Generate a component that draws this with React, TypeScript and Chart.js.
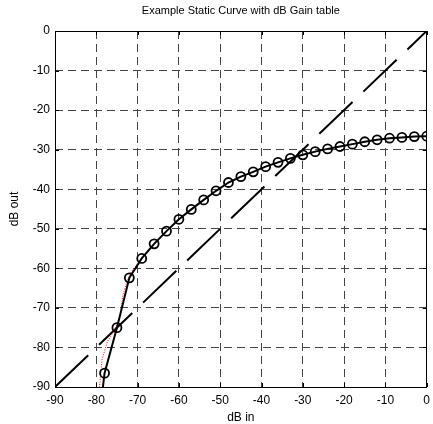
import React, { useEffect, useRef } from "react";
import { Chart, registerables } from "chart.js";

Chart.register(...registerables);

const chartTitle = "Example Static Curve with dB Gain table";
const xLabel = "dB in";
const yLabel = "dB out";
const tickValues = [-90, -80, -70, -60, -50, -40, -30, -20, -10, 0];

// Static curve with circle markers (first point lies below the axis, no marker)
const curveIn = [-81, -78, -75, -72, -69, -66, -63, -60, -57, -54, -51, -48, -45, -42, -39, -36, -33, -30, -27, -24, -21, -18, -15, -12, -9, -6, -3, 0];
const curveOut = [-113, -86.5, -75.0, -62.4, -57.5, -53.8, -50.6, -47.6, -45.1, -42.7, -40.4, -38.3, -36.8, -35.6, -34.3, -33.2, -32.2, -31.3, -30.5, -29.8, -29.2, -28.6, -28.0, -27.5, -27.1, -26.9, -26.7, -26.6];

// Thin red reference curve
const refIn = [-79.4, -78.6, -77.3, -75.5, -74.2, -73.6, -72.8, -71.5, -69, -66, -63, -60, -57, -54, -51, -48, -45, -42, -39, -36, -33, -30, -27, -24, -21, -18, -15, -12, -9, -6, -3, 0];
const refOut = [-92, -83, -78.5, -75.5, -72, -67, -64, -60.8, -57.6, -53.9, -50.7, -47.7, -45.2, -42.8, -40.5, -38.4, -36.9, -35.6, -34.3, -33.2, -32.2, -31.3, -30.5, -29.8, -29.2, -28.6, -28.0, -27.5, -27.1, -26.9, -26.7, -26.6];

// Unity (y = x) line
const diagIn = [-90, 0];
const diagOut = [-90, 0];

const FONT = "'Liberation Sans', Arial, Helvetica, sans-serif";

const framePlugin = {
  id: "matlabFrame",
  afterDraw(chart: any) {
    const { ctx, chartArea } = chart;
    const { left, right, top, bottom } = chartArea;
    const xs = chart.scales.x;
    const ys = chart.scales.y;
    ctx.save();
    ctx.strokeStyle = "#000";
    ctx.lineWidth = 1;
    ctx.setLineDash([]);
    ctx.beginPath();
    ctx.rect(Math.round(left) + 0.5, Math.round(top) + 0.5, Math.round(right - left) - 1, Math.round(bottom - top));
    ctx.stroke();
    const tl = 4;
    ctx.beginPath();
    for (const v of tickValues) {
      const px = Math.round(xs.getPixelForValue(v)) + 0.5;
      ctx.moveTo(px, bottom);
      ctx.lineTo(px, bottom - tl);
      ctx.moveTo(px, top);
      ctx.lineTo(px, top + tl);
      const py = Math.round(ys.getPixelForValue(v)) + 0.5;
      ctx.moveTo(left, py);
      ctx.lineTo(left + tl, py);
      ctx.moveTo(right, py);
      ctx.lineTo(right - tl, py);
    }
    ctx.stroke();

    ctx.fillStyle = "#000";
    ctx.textAlign = "center";
    ctx.textBaseline = "middle";
    ctx.font = `11px ${FONT}`;
    ctx.fillText(chartTitle, (left + right) / 2, 11);
    ctx.font = `12px ${FONT}`;
    ctx.fillText(xLabel, (left + right) / 2, 418);
    ctx.translate(15, (top + bottom) / 2);
    ctx.rotate(-Math.PI / 2);
    ctx.fillText(yLabel, 0, 0);
    ctx.restore();
  },
};

export default function App() {
  const ref = useRef<HTMLCanvasElement | null>(null);

  useEffect(() => {
    document.body.style.margin = "0";
    const canvas = ref.current;
    if (!canvas) return;

    const toPts = (xs: number[], ys: number[]) => xs.map((x, i) => ({ x, y: ys[i] }));

    const chart = new Chart(canvas, {
      type: "line",
      data: {
        datasets: [
          {
            label: "curve",
            data: toPts(curveIn, curveOut),
            borderColor: "#000",
            borderWidth: 2,
            pointRadius: (c: any) => (c.raw && c.raw.x < -80 ? 0 : 4.5),
            pointBorderWidth: 1.8,
            pointBorderColor: "#000",
            pointBackgroundColor: "rgba(0,0,0,0)",
            tension: 0,
            order: 1,
          },
          {
            label: "reference",
            data: toPts(refIn, refOut),
            borderColor: "#ff0000",
            borderWidth: 1,
            borderDash: [1, 1.5],
            pointRadius: 0,
            tension: 0,
            order: 2,
          },
          {
            label: "unity",
            data: toPts(diagIn, diagOut),
            borderColor: "#000",
            borderWidth: 2,
            borderDash: [46, 15],
            pointRadius: 0,
            tension: 0,
            order: 3,
          },
        ],
      },
      options: {
        responsive: false,
        animation: false,
        events: [],
        layout: { padding: { top: 31, right: 1, left: 0, bottom: 0 } },
        plugins: {
          legend: { display: false },
          title: { display: false },
          tooltip: { enabled: false },
        },
        scales: {
          x: {
            type: "linear",
            min: -90,
            max: 0,
            afterBuildTicks: (s: any) => {
              s.ticks = tickValues.map((v) => ({ value: v }));
            },
            afterFit: (s: any) => {
              s.height = 37;
              s.paddingLeft = 0;
              s.paddingRight = 0;
            },
            ticks: {
              color: "#000",
              font: { family: FONT, size: 12 },
              padding: 6,
              maxRotation: 0,
              autoSkip: false,
            },
            grid: {
              color: "#444",
              lineWidth: 1,
              drawTicks: false,
            },
            border: { display: false, dash: [8, 5] },
          },
          y: {
            type: "linear",
            min: -90,
            max: 0,
            afterBuildTicks: (s: any) => {
              s.ticks = tickValues.map((v) => ({ value: v }));
            },
            afterFit: (s: any) => {
              s.width = 55;
              s.paddingTop = 0;
              s.paddingBottom = 0;
            },
            ticks: {
              color: "#000",
              font: { family: FONT, size: 12 },
              padding: 5,
              autoSkip: false,
            },
            grid: {
              color: "#444",
              lineWidth: 1,
              drawTicks: false,
            },
            border: { display: false, dash: [8, 5] },
          },
        },
      },
      plugins: [framePlugin],
    });

    return () => chart.destroy();
  }, []);

  return <canvas ref={ref} width={433} height={424} style={{ display: "block" }} />;
}
